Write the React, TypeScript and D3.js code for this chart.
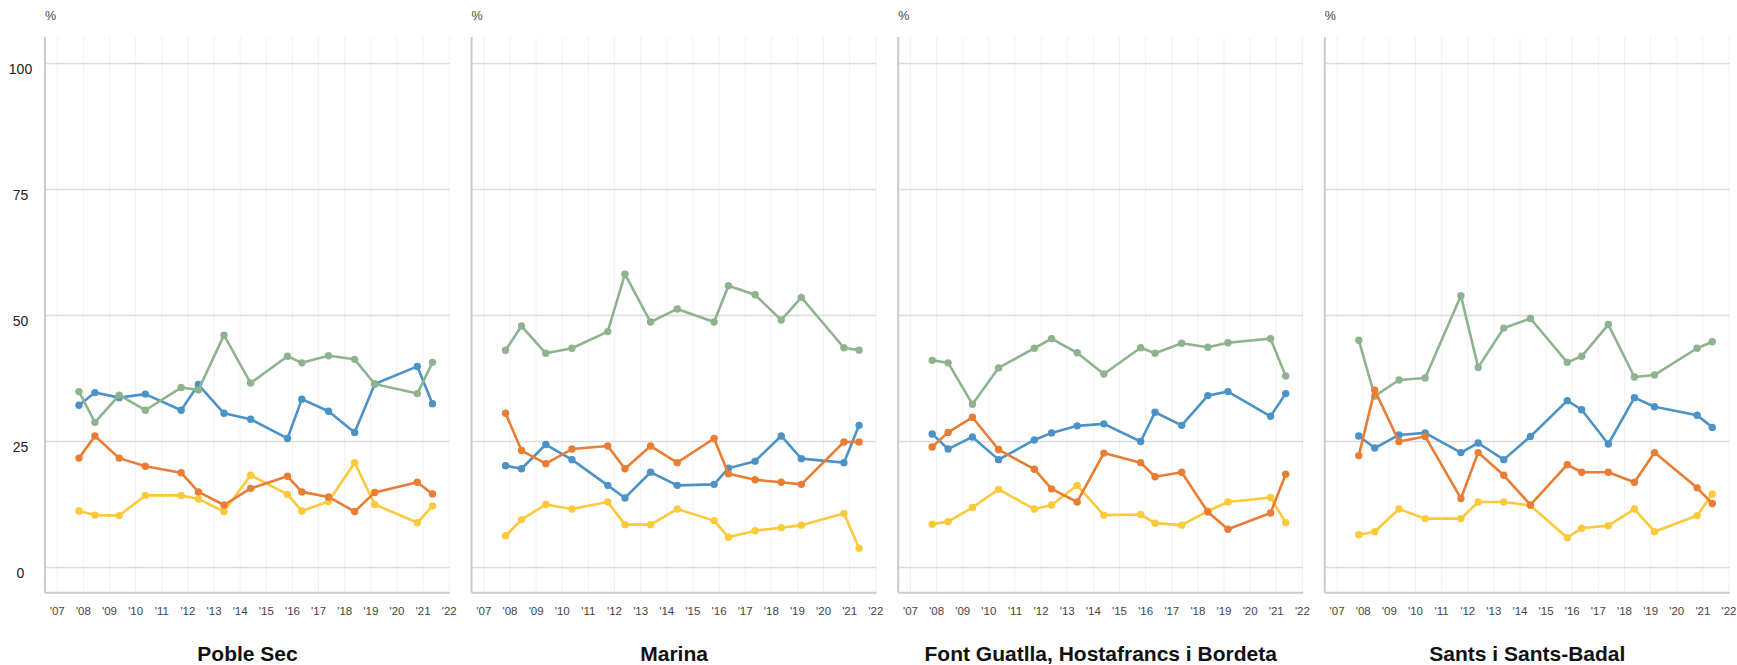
import React from 'react';
import * as d3 from 'd3';

// survey dates (fractional years), shared by every district
const dates = [2007.83, 2008.44, 2009.37, 2010.37, 2011.74, 2012.4, 2013.38, 2014.4, 2015.81, 2016.36, 2017.38, 2018.38, 2019.15, 2020.78, 2021.36];

const yearTicks = d3.range(2007, 2023);
const yTicks = [0, 25, 50, 75, 100];

const districts = ['Poble Sec', 'Marina', 'Font Guatlla, Hostafrancs i Bordeta', 'Sants i Sants-Badal'];

// one array per series and district
const pobleSecBlue = [32.2, 34.7, 33.7, 34.4, 31.2, 36.3, 30.6, 29.4, 25.6, 33.4, 31.0, 26.8, 36.4, 39.9, 32.5];
const pobleSecGreen = [34.9, 28.8, 34.2, 31.2, 35.7, 35.2, 46.1, 36.6, 41.9, 40.6, 42.0, 41.3, 36.4, 34.5, 40.7];
const pobleSecYellow = [11.2, 10.4, 10.3, 14.3, 14.3, 13.6, 11.1, 18.3, 14.5, 11.2, 13.1, 20.8, 12.5, 8.9, 12.2];
const pobleSecOrange = [21.7, 26.1, 21.7, 20.1, 18.8, 15.0, 12.4, 15.7, 18.1, 15.0, 14.0, 11.1, 14.9, 16.9, 14.6];

const marinaBlue = [20.2, 19.6, 24.4, 21.4, 16.3, 13.8, 18.9, 16.3, 16.5, 19.7, 21.1, 26.1, 21.6, 20.8, 28.2];
const marinaGreen = [43.1, 47.9, 42.5, 43.5, 46.8, 58.2, 48.7, 51.3, 48.7, 55.9, 54.1, 49.1, 53.6, 43.6, 43.1];
const marinaYellow = [6.3, 9.5, 12.5, 11.6, 13.0, 8.5, 8.5, 11.6, 9.3, 6.0, 7.3, 7.9, 8.4, 10.7, 3.8];
const marinaOrange = [30.6, 23.2, 20.6, 23.5, 24.1, 19.6, 24.1, 20.8, 25.6, 18.6, 17.4, 16.9, 16.5, 24.9, 24.9];

const fontGuatllaBlue = [26.5, 23.5, 25.9, 21.4, 25.3, 26.7, 28.1, 28.5, 25.0, 30.8, 28.2, 34.1, 34.9, 30.0, 34.5];
const fontGuatllaGreen = [41.1, 40.6, 32.4, 39.6, 43.5, 45.4, 42.6, 38.4, 43.6, 42.5, 44.5, 43.7, 44.6, 45.4, 38.0];
const fontGuatllaYellow = [8.6, 9.1, 11.9, 15.5, 11.6, 12.4, 16.3, 10.4, 10.5, 8.8, 8.4, 11.2, 13.0, 13.9, 8.9];
const fontGuatllaOrange = [23.9, 26.8, 29.8, 23.4, 19.5, 15.6, 13.0, 22.7, 20.8, 18.0, 18.9, 11.0, 7.6, 10.8, 18.5];

const santsBlue = [26.1, 23.7, 26.3, 26.7, 22.8, 24.7, 21.4, 26.0, 33.1, 31.3, 24.5, 33.7, 31.9, 30.2, 27.8];
const santsGreen = [45.1, 34.0, 37.2, 37.6, 53.9, 39.7, 47.5, 49.4, 40.7, 41.9, 48.2, 37.8, 38.2, 43.5, 44.8];
const santsYellow = [6.5, 7.1, 11.6, 9.7, 9.7, 13.0, 13.0, 12.3, 5.9, 7.8, 8.3, 11.6, 7.1, 10.3, 14.6];
const santsOrange = [22.2, 35.2, 25.0, 26.0, 13.7, 22.8, 18.3, 12.4, 20.4, 18.9, 18.9, 16.9, 22.8, 15.8, 12.7];

const seriesColors = ['#4b93c7', '#90b38f', '#fcc93a', '#e97d33'];

const panelData = [
  [pobleSecBlue, pobleSecGreen, pobleSecYellow, pobleSecOrange],
  [marinaBlue, marinaGreen, marinaYellow, marinaOrange],
  [fontGuatllaBlue, fontGuatllaGreen, fontGuatllaYellow, fontGuatllaOrange],
  [santsBlue, santsGreen, santsYellow, santsOrange],
];

const W = 1737;
const H = 665;
const panelLeft = 45;
const panelStep = 426.6;
const plotW = 405;
const plotTop = 37;
const plotH = 555.7;
const font = '"Liberation Sans", Arial, Helvetica, sans-serif';

const x = d3.scaleLinear().domain([2006.53, 2022.03]).range([0, plotW]);
const y = d3.scaleLinear().domain([-5, 105.25]).range([plotH, 0]);

const line = d3.line<[number, number]>()
  .x(d => x(d[0]))
  .y(d => y(d[1]));

const fmtYear = (yr: number) => "'" + String(yr).slice(2);

const Panel: React.FC<{ idx: number }> = ({ idx }) => {
  const series = panelData[idx];
  return (
    <g transform={`translate(${panelLeft + idx * panelStep},${plotTop})`}>
      {yearTicks.map(t => (
        <line key={'v' + t} x1={x(t)} x2={x(t)} y1={0} y2={plotH} stroke="#f1f1f1" strokeWidth={1} />
      ))}
      {yTicks.map(t => (
        <line key={'h' + t} x1={0} x2={plotW} y1={y(t)} y2={y(t)} stroke="#dcdcdc" strokeWidth={1.5} />
      ))}
      <line x1={0} x2={0} y1={0} y2={plotH} stroke="#cbcbcb" strokeWidth={2} />
      <line x1={0} x2={plotW} y1={plotH} y2={plotH} stroke="#cbcbcb" strokeWidth={2} />
      <text x={0} y={-17} fontSize={12.5} fill="#444" fontFamily={font}>%</text>
      {idx === 0 && yTicks.map(t => (
        <text key={'yl' + t} x={-24.5} y={y(t) + 11} fontSize={14} fill="#222" textAnchor="middle" fontFamily={font}>
          {t}
        </text>
      ))}
      {yearTicks.map(t => (
        <text key={'xl' + t} x={x(t)} y={plotH + 22.5} fontSize={11.5} fill="#444" textAnchor="middle" fontFamily={font}>
          {fmtYear(t)}
        </text>
      ))}
      {series.map((vals, si) => {
        const pts = dates.map((d, i) => [d, vals[i]] as [number, number]);
        return (
          <g key={'s' + si}>
            <path d={line(pts) || ''} fill="none" stroke={seriesColors[si]} strokeWidth={2.6} strokeLinejoin="round" />
            {pts.map((p, i) => (
              <circle key={i} cx={x(p[0])} cy={y(p[1])} r={3.7} fill={seriesColors[si]} />
            ))}
          </g>
        );
      })}
      <text x={plotW / 2} y={H - plotTop - 4} fontSize={21} fontWeight="bold" fill="#111" textAnchor="middle" fontFamily={font}>
        {districts[idx]}
      </text>
    </g>
  );
};

export default function App() {
  return (
    <svg width={W} height={H} style={{ position: 'absolute', left: 0, top: 0, background: '#fff' }}>
      <rect width={W} height={H} fill="#fff" />
      {districts.map((_, i) => (
        <Panel key={i} idx={i} />
      ))}
    </svg>
  );
}
